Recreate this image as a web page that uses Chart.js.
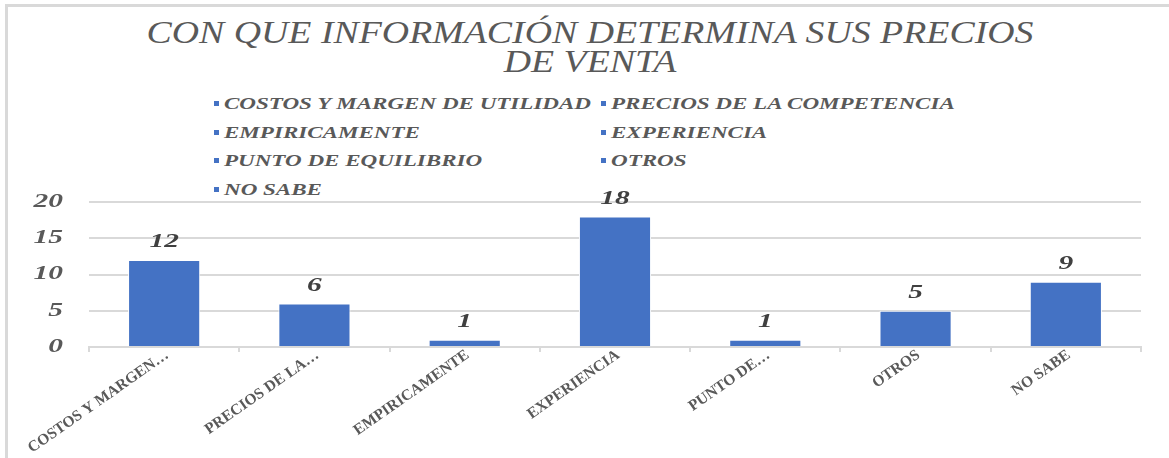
<!DOCTYPE html>
<html>
<head>
<meta charset="utf-8">
<script src="https://cdn.jsdelivr.net/npm/chart.js@4"></script>
<style>
  html, body { margin: 0; padding: 0; background: #fff; }
  body { width: 1169px; height: 458px; position: relative; overflow: hidden; }
  #marco { position: absolute; left: 5px; top: 4px; right: -10px; bottom: -10px;
           border-top: 3px solid #d9d9d9; border-left: 3px solid #d9d9d9; }
  #titulo { position: absolute; left: 0; width: 1180px; top: 18px; text-align: center;
            font-family: "Liberation Serif", serif; font-style: italic; font-size: 31px;
            line-height: 29px; color: #595959; transform: scaleX(1.22); transform-origin: 590px 0; }
  #leyenda { position: absolute; left: 214px; top: 95px; display: grid;
             grid-template-columns: 387px 387px; grid-auto-rows: 28.7px;
             font-family: "Liberation Serif", serif; font-style: italic; font-weight: bold;
             font-size: 16px; color: #595959; white-space: nowrap; }
  #leyenda span.m { display: inline-block; width: 5px; height: 5px; background: #4472C4;
                    margin-right: 5px; vertical-align: middle; position: relative; top: -2px; }
  #leyenda span.t { display: inline-block; transform: scaleX(1.44); transform-origin: 0 0; }
  canvas { position: absolute; left: 0; top: 0; }
</style>
</head>
<body>
<div id="marco"></div>
<div id="titulo">CON QUE INFORMACIÓN DETERMINA SUS PRECIOS<br>DE VENTA</div>
<div id="leyenda"></div>
<canvas id="grafico" width="1169" height="458"></canvas>
<script>
// categorias completas (leyenda) y etiquetas cortas del eje X
const categorias = ['COSTOS Y MARGEN DE UTILIDAD', 'PRECIOS DE LA COMPETENCIA', 'EMPIRICAMENTE',
  'EXPERIENCIA', 'PUNTO DE EQUILIBRIO', 'OTROS', 'NO SABE'];
const etiquetasEje = ['COSTOS Y MARGEN…', 'PRECIOS DE LA…', 'EMPIRICAMENTE',
  'EXPERIENCIA', 'PUNTO DE…', 'OTROS', 'NO SABE'];
const valores = [12, 6, 1, 18, 1, 5, 9];
const ticksY = [0, 5, 10, 15, 20];

const azul = '#4472C4';
const gris = '#595959';
const lineas = '#d9d9d9';

// leyenda en dos columnas, como en Excel
const leyenda = document.getElementById('leyenda');
categorias.forEach(c => {
  const d = document.createElement('div');
  d.innerHTML = '<span class="m"></span><span class="t">' + c + '</span>';
  leyenda.appendChild(d);
});

// el original tiene los numeros estirados a lo ancho; se imita escalando fillText
const canvas = document.getElementById('grafico');
const ctx = canvas.getContext('2d');
let estirar = 1;
const fillOrig = ctx.fillText;
ctx.fillText = function (t, x, y, mw) {
  if (estirar === 1) return fillOrig.call(this, t, x, y, mw);
  this.save();
  this.translate(x, y);
  this.scale(estirar, 1);
  fillOrig.call(this, t, 0, 0);
  this.restore();
};

// dibuja el valor encima de cada barra
const etiquetasValor = {
  id: 'etiquetasValor',
  beforeDraw() { estirar = 1; },      // etiquetas del eje X sin estirar
  afterDatasetsDraw(chart) {
    estirar = 1.55;                    // valores y eje Y
    const c = chart.ctx;
    const meta = chart.getDatasetMeta(0);
    c.save();
    c.font = 'italic bold 19px "Liberation Serif"';
    c.fillStyle = '#404040';
    c.textAlign = 'center';
    c.textBaseline = 'alphabetic';
    meta.data.forEach((bar, i) => {
      c.fillText(String(valores[i]), bar.x, bar.y - 13);
    });
    c.restore();
  },
  afterDraw() { estirar = 1; }
};

new Chart(canvas, {
  type: 'bar',
  data: {
    labels: etiquetasEje,
    datasets: [{
      label: 'Respuestas',
      data: valores,
      backgroundColor: azul,
      borderColor: '#ffffff',
      borderWidth: 1,
      categoryPercentage: 1,
      barPercentage: 0.48
    }]
  },
  options: {
    responsive: false,
    animation: false,
    layout: { padding: { left: 9, top: 202, right: 28, bottom: 0 } },
    plugins: {
      legend: { display: false },
      title: { display: false },
      tooltip: { enabled: false }
    },
    scales: {
      x: {
        afterFit: (axis) => { axis.height = 111; },
        grid: { drawOnChartArea: false, color: lineas, lineWidth: 2, tickLength: 5 },
        border: { color: lineas, width: 2 },
        ticks: {
          color: gris,
          font: { family: 'Liberation Serif', size: 15.5, weight: 'bold' },
          minRotation: 35,
          maxRotation: 35,
          padding: -6,
          labelOffset: 3,
          autoSkip: false
        }
      },
      y: {
        min: 0,
        max: 20,
        afterFit: (axis) => { axis.width = 80; },
        afterBuildTicks: (axis) => { axis.ticks = ticksY.map(v => ({ value: v })); },
        grid: { color: lineas, lineWidth: 2, drawTicks: false },
        border: { display: false },
        ticks: {
          z: 1,
          color: gris,
          font: { family: 'Liberation Serif', size: 19, style: 'italic', weight: 'bold' },
          padding: 26
        }
      }
    }
  },
  plugins: [etiquetasValor]
});
</script>
</body>
</html>
